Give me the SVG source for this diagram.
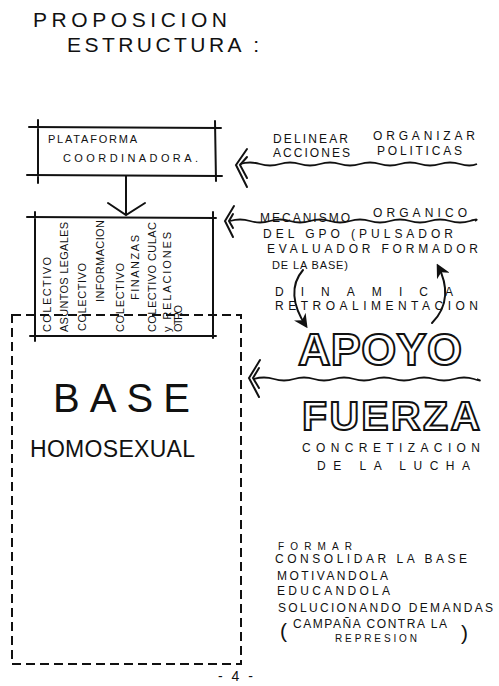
<svg xmlns="http://www.w3.org/2000/svg" width="499" height="686" viewBox="0 0 499 686">
<style>
text{font-family:"Liberation Sans",Arial,sans-serif;fill:#111}
.t{font-size:12px}
.s{font-size:11px}
.v{font-size:11px}
.ln{stroke:#111;stroke-width:2;fill:none;stroke-linecap:round}
.w{stroke:#111;stroke-width:1.8;fill:none}
.ol{fill:#fff;stroke:#111;stroke-width:2;font-weight:bold}
</style>
<defs>
<marker id="ah" viewBox="0 0 10 10" refX="8" refY="5" markerWidth="7" markerHeight="7" orient="auto"><path d="M0,0 L10,5 L0,10 L3,5 Z" fill="#111"/></marker>
</defs>
<rect width="499" height="686" fill="#fff"/>
<g id="title">
<text x="33" y="27" font-size="21" textLength="194" lengthAdjust="spacing">PROPOSICION</text>
<text x="67" y="52" font-size="21" textLength="192" lengthAdjust="spacing">ESTRUCTURA :</text>
</g>
<g id="plataforma">
<path class="ln" d="M29,127 L221,128 M38,120 L38,183 M215,121 L216,181 M27,175 L222,176"/>
<text class="s" x="48" y="143" textLength="89" lengthAdjust="spacing">PLATAFORMA</text>
<text class="s" x="63" y="162" textLength="135" lengthAdjust="spacing">COORDINADORA.</text>
</g>
<g id="colectivos">
<path class="ln" d="M27,217 L216,218 M35,212 L35,341 M213,212 L213,338 M30,336 L216,336"/>
<text class="v" transform="translate(51,332) rotate(-90)" textLength="75" lengthAdjust="spacing">COLECTIVO</text>
<text class="v" transform="translate(68,332) rotate(-90)" textLength="110" lengthAdjust="spacing">ASUNTOS LEGALES</text>
<text class="v" transform="translate(86,331) rotate(-90)" textLength="68" lengthAdjust="spacing">COLECTIVO</text>
<text class="v" transform="translate(104,302) rotate(-90)" textLength="82" lengthAdjust="spacing">INFORMACION</text>
<text class="v" transform="translate(124,332) rotate(-90)" textLength="69" lengthAdjust="spacing">COLECTIVO</text>
<text class="v" transform="translate(139,300) rotate(-90)" textLength="65" lengthAdjust="spacing">FINANZAS</text>
<text class="v" transform="translate(156,332) rotate(-90)" textLength="110" lengthAdjust="spacing">COLECTIVO CULAC</text>
<text class="v" transform="translate(171,332) rotate(-90)" textLength="100" lengthAdjust="spacing">y RELACIONES</text>
<text class="v" transform="translate(182,332) rotate(-90)" font-size="10" textLength="27" lengthAdjust="spacing">OTRO</text>
</g>
<g id="base">
<rect x="12" y="315" width="229" height="349" fill="none" stroke="#111" stroke-width="2" stroke-dasharray="9 5"/>
<text x="53" y="412" font-size="40" textLength="137" lengthAdjust="spacing">BASE</text>
<text x="30" y="457" font-size="23" textLength="165" lengthAdjust="spacing">HOMOSEXUAL</text>
</g>
<g id="delinear">
<text class="t" x="273" y="143" textLength="75" lengthAdjust="spacing">DELINEAR</text>
<text class="t" x="373" y="140" textLength="102" lengthAdjust="spacing">ORGANIZAR</text>
<text class="t" x="273" y="157" textLength="77" lengthAdjust="spacing">ACCIONES</text>
<text class="t" x="377" y="155" textLength="85" lengthAdjust="spacing">POLITICAS</text>
</g>
<g id="mecanismo">
<text class="t" x="260" y="222" textLength="90" lengthAdjust="spacing">MECANISMO</text>
<text class="t" x="373" y="217" textLength="94" lengthAdjust="spacing">ORGANICO</text>
<text class="t" x="263" y="238" textLength="190" lengthAdjust="spacing">DEL GPO (PULSADOR</text>
<text class="t" x="267" y="253" textLength="211" lengthAdjust="spacing">EVALUADOR FORMADOR</text>
<text class="s" x="272" y="269" textLength="76" lengthAdjust="spacing">DE LA BASE)</text>
</g>
<g id="dinamica">
<text class="t" x="275" y="296" textLength="178" lengthAdjust="spacing">DINAMICA</text>
<text class="t" x="275" y="310" textLength="203" lengthAdjust="spacing">RETROALIMENTACION</text>
</g>
<g id="apoyo">
<text class="ol" x="298" y="365" font-size="45" textLength="164" lengthAdjust="spacing">APOYO</text>
</g>
<g id="fuerza">
<text class="ol" x="302" y="430" font-size="41" textLength="178" lengthAdjust="spacing">FUERZA</text>
<text class="t" x="302" y="452" textLength="178" lengthAdjust="spacing">CONCRETIZACION</text>
<text class="t" x="317" y="470" textLength="153" lengthAdjust="spacing">DE LA LUCHA</text>
</g>
<g id="formar">
<text x="278" y="550" font-size="10" textLength="74" lengthAdjust="spacing">FORMAR</text>
<text class="t" x="275" y="563" textLength="192" lengthAdjust="spacing">CONSOLIDAR LA BASE</text>
<text class="t" x="277" y="580" textLength="111" lengthAdjust="spacing">MOTIVANDOLA</text>
<text class="t" x="277" y="595" textLength="113" lengthAdjust="spacing">EDUCANDOLA</text>
<text class="t" x="278" y="612" textLength="215" lengthAdjust="spacing">SOLUCIONANDO DEMANDAS</text>
<text x="280" y="638" font-size="21">(</text>
<text class="t" x="293" y="628" textLength="154" lengthAdjust="spacing">CAMPAÑA CONTRA LA</text>
<text x="461" y="640" font-size="21">)</text>
<text x="335" y="642" font-size="10" textLength="82" lengthAdjust="spacing">REPRESION</text>
</g>
<g id="page">
<text x="218" y="681" font-size="14" textLength="35" lengthAdjust="spacing">- 4 -</text>
</g>
<g id="connectors">
<path class="ln" d="M126,176 L126,214 M108,203 L126,215 L145,203"/>
<path class="w" d="M240,164 q10,-3 20,0 t20,0 t20,0 t20,0 t20,0 t20,0 t20,0 t20,0 t20,0 t20,0 t20,0 t17,0"/>
<path class="ln" d="M247,149 L236,165 L247,187 M247,157 L240,165 L247,178" stroke-width="1.6"/>
<path class="w" d="M230,221 q10,-3 20,0 t20,0 t20,0 t20,0 t20,0 t20,0 t20,0 t20,0 t20,0 t20,0 t20,0 t20,0 t5,0"/>
<path class="ln" d="M234,206 L225,221 L233,237 M233,214 L229,221 L233,228" stroke-width="1.6"/>
<path class="w" d="M254,379 q10,-3 20,0 t20,0 t20,0 t20,0 t20,0 t20,0 t20,0 t20,0 t20,0 t20,0 t20,0 t3,0"/>
<path class="ln" d="M260,360 L249,378 L259,397 M259,368 L253,378 L259,388" stroke-width="1.6"/>
<path class="ln" d="M303,270 C290,285 292,305 306,326" marker-end="url(#ah)"/>
<path class="ln" d="M432,323 C449,306 448,285 438,266" marker-end="url(#ah)"/>
</g>
</svg>
